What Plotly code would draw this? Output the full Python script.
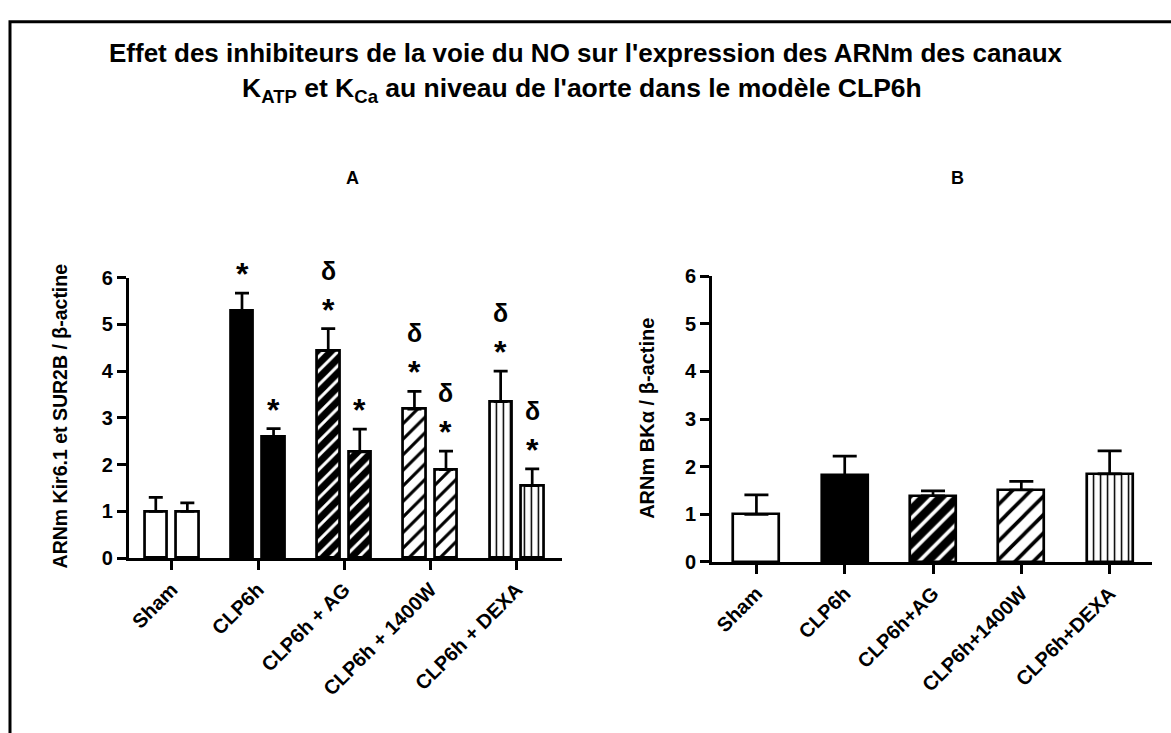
import plotly.graph_objects as go

# ---------------- data ----------------
groups_a = ["Sham", "CLP6h", "CLP6h + AG", "CLP6h + 1400W", "CLP6h + DEXA"]
groups_b = ["Sham", "CLP6h", "CLP6h+AG", "CLP6h+1400W", "CLP6h+DEXA"]

kir_mean = [1.00, 5.29, 4.44, 3.19, 3.35]
kir_sem = [0.30, 0.38, 0.47, 0.38, 0.65]
sur_mean = [1.00, 2.59, 2.27, 1.89, 1.55]
sur_sem = [0.18, 0.18, 0.49, 0.40, 0.36]
bk_mean = [1.00, 1.82, 1.39, 1.51, 1.85]
bk_sem = [0.41, 0.40, 0.10, 0.18, 0.48]

# significance marks (panel A): * vs Sham, delta vs CLP6h
kir_star = [False, True, True, True, True]
kir_delta = [False, False, True, True, True]
sur_star = [False, True, True, True, True]
sur_delta = [False, False, False, True, True]

# ---------------- styles ----------------
FONT = "Liberation Sans, Arial, sans-serif"
W, H = 1171, 733
pat_shape = ["", "", "/", "/", "|"]
pat_fg = ["black", "black", "white", "black", "black"]
pat_bg = ["white", "black", "black", "white", "white"]
pat_sol = [0.3, 0.3, 0.3, 0.28, 0.22]
pat_size_a = [10, 10, 10, 11, 7]
pat_size_b = [12, 12, 12, 13, 7]


def px_x(p):
    return p / W


def px_y(p):
    return 1 - p / H


fig = go.Figure()
xs = list(range(5))


def add_bars(means, sems, xaxis, yaxis, offset, width, psizes, capw):
    for i in range(len(means)):
        pat = dict(shape=pat_shape[i], fgcolor=pat_fg[i], bgcolor=pat_bg[i],
                   solidity=pat_sol[i], size=psizes[i], fillmode="replace")
        fig.add_trace(go.Bar(
            x=[xs[i]], y=[means[i]], xaxis=xaxis, yaxis=yaxis,
            offset=offset, width=width,
            marker=dict(color=pat_bg[i], line=dict(color="black", width=2.7),
                        pattern=pat),
            error_y=dict(type="data", array=[sems[i]], symmetric=False,
                         arrayminus=[0], color="black",
                         thickness=2.7, width=capw),
            showlegend=False, hoverinfo="skip",
        ))


add_bars(kir_mean, kir_sem, "x", "y", -0.316, 0.26, pat_size_a, 7)
add_bars(sur_mean, sur_sem, "x", "y", 0.05, 0.26, pat_size_a, 7)
add_bars(bk_mean, bk_sem, "x2", "y2", -0.26, 0.52, pat_size_b, 12)

annotations = []


def add_marks(means, sems, stars, deltas, dx):
    for i, (m, s, st, de) in enumerate(zip(means, sems, stars, deltas)):
        top = m + s
        if st:
            annotations.append(dict(
                x=i + dx, y=top, xref="x", yref="y", text="*", showarrow=False,
                xanchor="center", yanchor="middle", yshift=19,
                font=dict(family=FONT, size=32, color="black", weight="bold")))
        if de:
            annotations.append(dict(
                x=i + dx, y=top, xref="x", yref="y", text="δ", showarrow=False,
                xanchor="center", yanchor="middle", yshift=58,
                font=dict(family=FONT, size=25, color="black", weight="bold")))


add_marks(kir_mean, kir_sem, kir_star, kir_delta, -0.186)
add_marks(sur_mean, sur_sem, sur_star, sur_delta, 0.18)


def paper_text(x, y, text, size, angle=0):
    annotations.append(dict(
        x=px_x(x), y=px_y(y), xref="paper", yref="paper", showarrow=False,
        text=text, textangle=angle, xanchor="center", yanchor="middle",
        font=dict(family=FONT, size=size, color="black", weight="bold")))


paper_text(585, 43, "Effet des inhibiteurs de la voie du NO sur l'expression des ARNm des canaux", 26)
paper_text(581, 81, "K<sub>ATP</sub> et K<sub>Ca</sub> au niveau de l'aorte dans le modèle CLP6h", 26.5)
paper_text(352, 172, "A", 18)
paper_text(957, 172, "B", 18)
paper_text(60, 417, "ARNm Kir6.1 et SUR2B / β-actine", 19.5, -90)
paper_text(647, 420, "ARNm BKα / β-actine", 20, -90)

axis_common = dict(showline=True, linecolor="black", linewidth=3,
                   ticks="outside", tickwidth=3, ticklen=9, tickcolor="black",
                   showgrid=False, zeroline=False, fixedrange=True)
xtick_font = dict(family=FONT, size=20, weight="bold")
ytick_font = dict(family=FONT, size=20, weight="bold")

fig.update_layout(
    width=W, height=H,
    margin=dict(l=0, r=0, t=0, b=0),
    paper_bgcolor="white", plot_bgcolor="white",
    font=dict(family=FONT, color="black"),
    bargap=0, barmode="overlay",
    xaxis=dict(domain=[px_x(128), px_x(561)], range=[-0.498, 4.52],
               tickmode="array", tickvals=xs, ticktext=groups_a, tickangle=-45,
               tickfont=xtick_font, anchor="y", **axis_common),
    yaxis=dict(domain=[px_y(564), px_y(275)], range=[0, 6],
               tickvals=[0, 1, 2, 3, 4, 5, 6], tickfont=ytick_font,
               anchor="x", **axis_common),
    xaxis2=dict(domain=[px_x(711.7), px_x(1152)], range=[-0.502, 4.48],
                tickmode="array", tickvals=xs, ticktext=groups_b, tickangle=-45,
                tickfont=xtick_font, anchor="y2", **axis_common),
    yaxis2=dict(domain=[px_y(568), px_y(273.3)], range=[0, 6],
                tickvals=[0, 1, 2, 3, 4, 5, 6], tickfont=ytick_font,
                anchor="x2", **axis_common),
    annotations=annotations,
    shapes=[dict(type="rect", xref="paper", yref="paper",
                 x0=px_x(9), x1=1.05, y0=-0.05, y1=px_y(11),
                 line=dict(color="black", width=3), fillcolor="rgba(0,0,0,0)",
                 layer="above")],
)

fig.write_html("out.html", config={"displayModeBar": False},
               post_script="document.body.style.margin='0';")
